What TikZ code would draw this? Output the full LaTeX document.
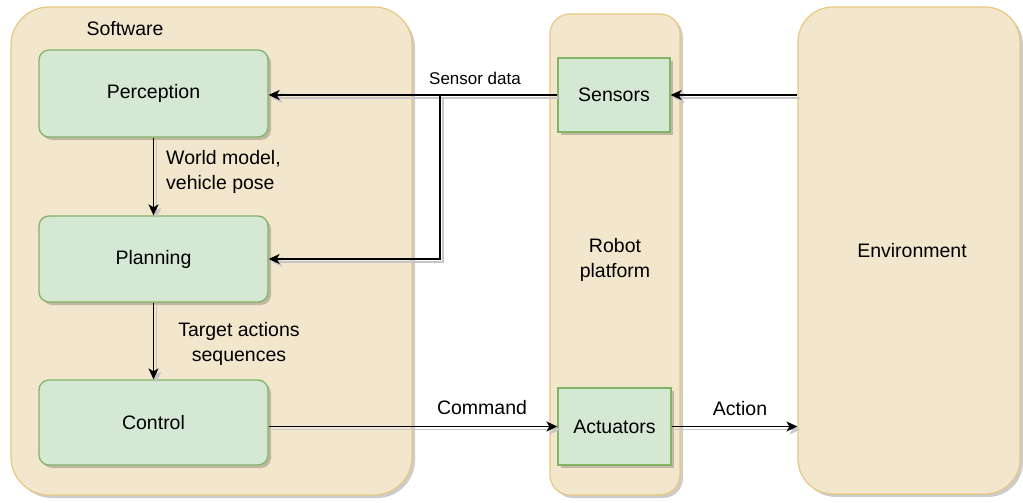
\documentclass[tikz,border=0pt]{standalone}
\usepackage{fontspec}
\setmainfont{Liberation Sans}
\usetikzlibrary{shadows,arrows.meta}
\definecolor{tanfill}{RGB}{242,231,205}
\definecolor{tanline}{RGB}{232,200,128}
\definecolor{boxfill}{RGB}{213,232,212}
\definecolor{boxline}{RGB}{130,179,102}
\begin{document}
\begin{tikzpicture}[x=1pt,y=-1pt,
  every node/.style={font=\fontsize{19.5}{25}\selectfont, align=center, inner sep=0pt},
  shade3/.style={drop shadow={shadow xshift=3pt, shadow yshift=-3pt, fill=black, opacity=0.2}},
  container/.style={draw=tanline, fill=tanfill, line width=1.2pt, shade3},
  module/.style={draw=boxline, fill=boxfill, line width=1.3pt, shade3},
  link/.style={-{Stealth[length=11pt,width=10pt,inset=3pt]}, line width=1.4pt,
    preaction={draw=black!22, line width=1.4pt, transform canvas={shift={(3pt,-3pt)}}}},
  small/.style={font=\fontsize{17}{21}\selectfont}
]
\useasboundingbox (0,0) rectangle (1023,503);

% containers
\node[container, rounded corners=38pt, minimum width=401pt, minimum height=488pt] (software) at (211.5,251) {};
\node[container, rounded corners=20pt, minimum width=130pt, minimum height=481pt] (platform) at (615,254.5) {};
\node[container, rounded corners=35pt, minimum width=222pt, minimum height=487pt] (environment) at (909,250.5) {};

\node (softwarelbl) at (125,29) {Software};
\node (platformlbl) at (615,259.5) {Robot\\platform};
\node (envlbl) at (912,251) {Environment};

% software modules
\node[module, rounded corners=10pt, minimum width=229pt, minimum height=87pt] (perception) at (153.5,93.5) {Perception};
\node[module, rounded corners=10pt, minimum width=229pt, minimum height=86pt] (planning) at (153.5,259) {Planning};
\node[module, rounded corners=10pt, minimum width=229pt, minimum height=85pt] (control) at (153.5,422.5) {Control};

% robot platform modules
\node[module, minimum width=112pt, minimum height=74pt] (sensors) at (614,95) {Sensors};
\node[module, minimum width=113pt, minimum height=77pt] (actuators) at (614.5,426.5) {Actuators};

% connectors
\coordinate (branch) at (440,95);
\draw[link] (environment.west |- sensors.east) -- (sensors.east);
\draw[link] (sensors.west) -- (perception.east |- sensors.west);
\draw[link] (branch) |- (planning.east);
\draw[link] (perception.south) -- (planning.north);
\draw[link] (planning.south) -- (control.north);
\draw[link] (control.east |- actuators.west) -- (actuators.west);
\draw[link] (actuators.east) -- (environment.west |- actuators.east);

% connector labels
\node[small] (sensordata) at (475,78) {Sensor data};
\node[anchor=west, align=left] (worldmodel) at (166,172) {World model,\\vehicle pose};
\node (targetactions) at (239,344) {Target actions\\sequences};
\node (command) at (482,408) {Command};
\node (action) at (740,409) {Action};
\end{tikzpicture}
\end{document}
